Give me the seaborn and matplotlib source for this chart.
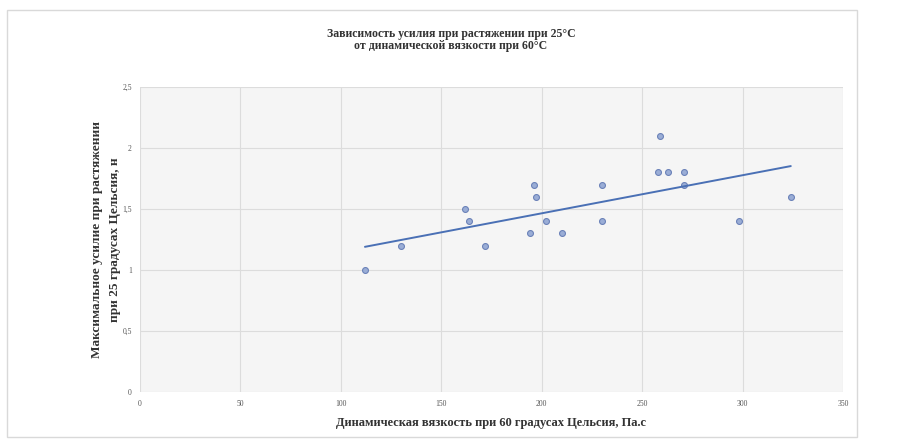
import matplotlib
matplotlib.use("Agg")
import matplotlib.pyplot as plt
import matplotlib.patches as mpatches
import seaborn as sns
import pandas as pd
from matplotlib.ticker import FuncFormatter

viscosity = [112, 130, 162, 164, 172, 196, 197, 194, 202, 210, 230, 230, 259, 258, 263, 271, 271, 298, 324]
force = [1.0, 1.2, 1.5, 1.4, 1.2, 1.7, 1.6, 1.3, 1.4, 1.3, 1.7, 1.4, 2.1, 1.8, 1.8, 1.8, 1.7, 1.4, 1.6]
x_ticks = [0, 50, 100, 150, 200, 250, 300, 350]
y_ticks = [0, 0.5, 1, 1.5, 2, 2.5]

title = "Зависимость усилия при растяжении при 25°С\nот динамической вязкости при 60°С"
xlabel = "Динамическая вязкость при 60 градусах Цельсия, Па.с"
ylabel = "Максимальное усилие при растяжении\nпри 25 градусах Цельсия, н"

df = pd.DataFrame({"x": viscosity, "y": force})

sns.set_theme(style="whitegrid")
plt.rcParams['font.family'] = ['Liberation Serif', 'DejaVu Serif']

fig = plt.figure(figsize=(9.02, 4.44), dpi=100)
fig.patch.set_facecolor("white")
fig.patches.append(mpatches.Rectangle((7/902, 1 - 437/444), (857-7)/902, (437-10)/444,
                                      transform=fig.transFigure, fill=False,
                                      edgecolor="#d9d9d9", linewidth=1.0))
ax = fig.add_axes([140/902, 1 - 392/444, (843-140)/902, (392-87)/444])
ax.set_facecolor("#f5f5f5")

sns.regplot(data=df, x="x", y="y", ax=ax, ci=None, truncate=True,
            scatter_kws=dict(s=18, color="#9aadd6", edgecolor="#6b82b8", linewidths=0.8, alpha=1),
            line_kws=dict(color="#4a70b5", linewidth=1.4))

ax.set_xlim(0, 350)
ax.set_ylim(0, 2.5)
ax.set_xticks(x_ticks)
ax.set_yticks(y_ticks)
fmt = FuncFormatter(lambda v, p: (f"{v:g}").replace(".", ","))
ax.xaxis.set_major_formatter(fmt)
ax.yaxis.set_major_formatter(fmt)
ax.tick_params(labelsize=5.5, colors="#555555", length=0, pad=6)
ax.grid(True, color="#dcdcdc", linewidth=0.8)
for s in ax.spines.values():
    s.set_visible(False)

ax.set_xlabel(xlabel, fontsize=9, fontweight="bold", color="#333333", labelpad=6)
ax.set_ylabel(ylabel, fontsize=9.5, fontweight="bold", color="#333333", labelpad=1,
              linespacing=1.6)
fig.text(0.5, 1 - 40/444, title, ha="center", va="center", fontsize=8.5,
         fontweight="bold", color="#333333", linespacing=1.1)

fig.savefig("out.png", dpi=100, facecolor="white")
